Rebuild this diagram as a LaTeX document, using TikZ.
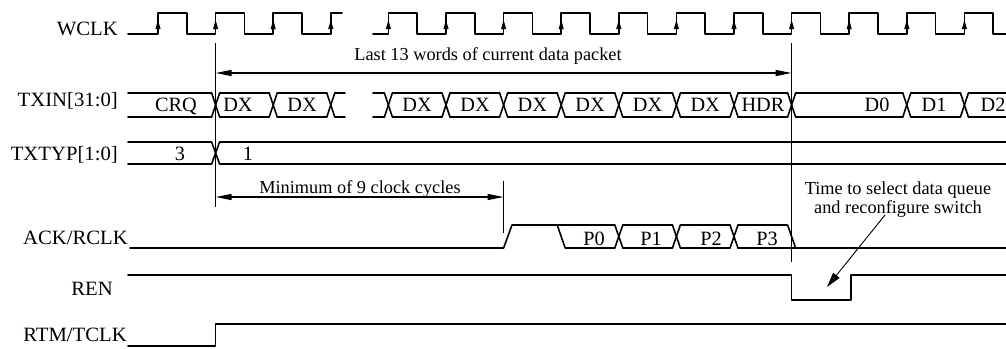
\documentclass[tikz,border=0pt]{standalone}
\usepackage{fontspec}
\usepackage{graphicx}
\setmainfont{Liberation Serif}
\usetikzlibrary{arrows.meta}
\newcommand\hs[1]{\scalebox{1.02}[1]{#1}}
\newcommand\labfont{\fontsize{20.3}{23}\selectfont}
\newcommand\smfont{\fontsize{18.3}{21}\selectfont}
\newcommand\busseg[4]{\draw[sig] (#1,#3) -- (#2,#3); \draw[sig] (#1,#4) -- (#2,#4);}
\newcommand\busX[3]{\draw[sig] (#1-4,#2) -- (#1+4,#3); \draw[sig] (#1-4,#3) -- (#1+4,#2);}
\tikzset{
  sig/.style={line width=1.6pt, line cap=round, line join=round},
  marker/.style={line width=1.6pt},
  dimarrow/.style={line width=1.4pt, {Triangle[length=16pt,width=6pt]}-{Triangle[length=16pt,width=6pt]}},
  callout/.style={line width=0.9pt, -{Triangle[length=15pt,width=8pt]}},
  lab/.style={anchor=base east, inner sep=0pt, font=\labfont},
  bt/.style={anchor=base, inner sep=0pt, font=\labfont},
  txt/.style={anchor=base, inner sep=0pt, font=\smfont},
}
\begin{document}
\begin{tikzpicture}[x=1pt,y=-1pt]
\useasboundingbox (0,0) rectangle (1006,348);

% signal labels
\node[lab] (lwclk) at (118,35) {\hs{WCLK}};
\node[lab] (ltxin) at (118,106) {\hs{TXIN[31:0]}};
\node[lab] (ltxtyp) at (118,160) {\hs{TXTYP[1:0]}};
\node[lab] (lack) at (128,244) {\hs{ACK/RCLK}};
\node[lab] (lren) at (113,295) {\hs{REN}};
\node[lab] (lrtm) at (127,341) {\hs{RTM/TCLK}};

% WCLK
\draw[sig] (128,34) foreach \r in {158,215.6,273.2} { -- (\r,34) -- (\r,13) -- (\r+28.8,13) -- (\r+28.8,34) } -- (330.8,34) -- (330.8,13) -- (342,13);
\draw[sig] (373,34) foreach \r in {388.4,446,503.6,561.2,618.8,676.4,734,791.6,849.2,906.8,964.4} { -- (\r,34) -- (\r,13) -- (\r+28.8,13) -- (\r+28.8,34) } -- (1006,34);
\foreach \r in {158,215.6,273.2,330.8,388.4,446,503.6,561.2,618.8,676.4,734,791.6,849.2,906.8,964.4}
  \fill (\r,20) -- (\r-2.6,29) -- (\r+2.6,29) -- cycle;

% TXIN bus
\foreach \a/\b in {128/211.6, 219.6/269.2, 277.2/326.8, 334.8/345, 373/384.4, 392.4/442, 450/499.6, 507.6/557.2, 565.2/614.8, 622.8/672.4, 680.4/730, 738/787.6, 795.6/902.8, 910.8/960.4, 968.4/1006}
  {\busseg{\a}{\b}{93}{117}}
\foreach \t in {215.6,273.2,330.8,388.4,446,503.6,561.2,618.8,676.4,734,791.6,906.8,964.4}
  {\busX{\t}{93}{117}}
\node[bt] (crq) at (176,111) {CRQ};
\foreach \x [count=\i] in {238,302,417,475,532.4,590,647.6,705.2}
  {\node[bt] (dx\i) at (\x,111) {DX};}
\node[bt] (hdr) at (763,111) {HDR};
\node[bt] (d0) at (877,111) {D0};
\node[bt] (d1) at (934,111) {D1};
\node[bt] (d2) at (993,111) {D2};

% TXTYP bus
\busseg{128}{211.6}{142}{164}
\busX{215.6}{142}{164}
\busseg{219.6}{1006}{142}{164}
\node[bt] (t3) at (180,160) {3};
\node[bt] (t1) at (248,160) {1};

% ACK/RCLK
\draw[sig] (130,248) -- (503.6,248) -- (512,225) -- (614.8,225);
\draw[sig] (557.2,225) -- (565.2,248) -- (614.8,248);
\foreach \t in {618.8,676.4,734} {\busX{\t}{225}{248}}
\busseg{622.8}{672.4}{225}{248}
\busseg{680.4}{730}{225}{248}
\draw[sig] (738,225) -- (787.6,225) -- (795.6,248);
\draw[sig] (738,248) -- (1006,248);
\node[bt] (p0) at (594,245) {P0};
\node[bt] (p1) at (651,245) {P1};
\node[bt] (p2) at (711,245) {P2};
\node[bt] (p3) at (767,245) {P3};

% REN
\draw[sig] (128,275) -- (791.6,275) -- (791.6,300) -- (851,300) -- (851,275) -- (1006,275);

% RTM/TCLK
\draw[sig] (128,346) -- (215.6,346) -- (215.6,324) -- (1006,324);

% markers
\coordinate (m1a) at (215.6,43); \coordinate (m1b) at (215.6,207);
\coordinate (m2a) at (791.6,43); \coordinate (m2b) at (791.6,262);
\coordinate (m3a) at (503.6,181); \coordinate (m3b) at (503.6,233);
\draw[marker] (m1a) -- (m1b);
\draw[marker] (m2a) -- (m2b);
\draw[marker] (m3a) -- (m3b);

% dimension arrows
\coordinate (a1l) at (215.6,73); \coordinate (a1r) at (791.6,73);
\draw[dimarrow] (a1l) -- (a1r);
\node[txt] (last) at (488,60) {Last 13 words of current data packet};
\coordinate (a2l) at (215.6,197); \coordinate (a2r) at (503.6,197);
\draw[dimarrow] (a2l) -- (a2r);
\node[txt] (mincyc) at (360,193) {Minimum of 9 clock cycles};

% callout
\node[txt] (time1) at (898,194) {Time to select data queue};
\node[txt] (time2) at (898,213) {and reconfigure switch};
\coordinate (cs) at (885,215);
\coordinate (ce) at (827,287);
\draw[callout] (cs) -- (ce);
\end{tikzpicture}
\end{document}
